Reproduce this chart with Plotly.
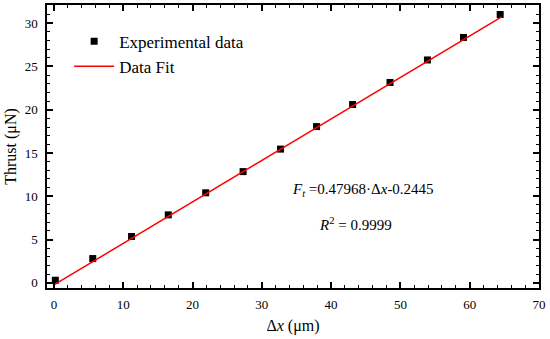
import plotly.graph_objects as go

# Data
dx_um = [0.2, 5.6, 11.2, 16.5, 21.9, 27.3, 32.7, 37.9, 43.1, 48.5, 53.9, 59.1, 64.4]
thrust_uN = [0.3, 2.8, 5.35, 7.85, 10.4, 12.85, 15.45, 18.05, 20.6, 23.15, 25.75, 28.35, 31.0]
fit_x = [0.0, 64.6]
fit_y = [-0.2445, 30.74]

FONT = "Liberation Serif, Times New Roman, serif"

fig = go.Figure()
fig.add_trace(go.Scatter(
    x=dx_um, y=thrust_uN, mode="markers", name="Experimental data",
    marker=dict(symbol="square", size=7, color="black"),
))
fig.add_trace(go.Scatter(
    x=fit_x, y=fit_y, mode="lines", name="Data Fit",
    line=dict(color="#ff0000", width=1.5),
))

axis_common = dict(
    showline=True, linecolor="black", linewidth=1.5, mirror="ticks",
    ticks="inside", ticklen=6, tickwidth=1.5, tickcolor="black",
    showgrid=False, zeroline=False, automargin=False,
    tickfont=dict(family=FONT, size=13, color="black"),
)

fig.update_xaxes(
    range=[-1, 70], dtick=10, tick0=0, ticklabelstandoff=4,
    minor=dict(dtick=2, ticks="inside", ticklen=3, tickwidth=1, tickcolor="black"),
    title=dict(text="Δ<i>x</i> (μm)", font=dict(family=FONT, size=16, color="black"), standoff=8),
    **axis_common,
)
fig.update_yaxes(
    range=[-0.6, 32.1], dtick=5, tick0=0, ticklabelstandoff=5,
    minor=dict(dtick=1, ticks="inside", ticklen=3, tickwidth=1, tickcolor="black"),
    title=dict(text="Thrust (μN)", font=dict(family=FONT, size=16, color="black"), standoff=4),
    **axis_common,
)

fig.add_annotation(
    x=44.6, y=10.7, xref="x", yref="y", showarrow=False,
    text="<i>F</i><sub><i>t</i></sub> =0.47968·Δ<i>x</i>-0.2445",
    font=dict(family=FONT, size=15, color="black"),
)
fig.add_annotation(
    x=43.5, y=6.8, xref="x", yref="y", showarrow=False,
    text="<i>R</i><sup>2</sup> = 0.9999",
    font=dict(family=FONT, size=15, color="black"),
)

fig.update_layout(
    width=550, height=339,
    margin=dict(l=47, r=11, t=5, b=51),
    paper_bgcolor="white", plot_bgcolor="white",
    font=dict(family=FONT, color="black"),
    legend=dict(
        x=0.045, y=0.934, xanchor="left", yanchor="top",
        bgcolor="rgba(0,0,0,0)", borderwidth=0,
        font=dict(family=FONT, size=17, color="black"),
        tracegroupgap=0, itemwidth=40,
    ),
    showlegend=True,
)

fig.write_html("out.html", config={"displayModeBar": False},
               post_script="document.body.style.margin='0';")
